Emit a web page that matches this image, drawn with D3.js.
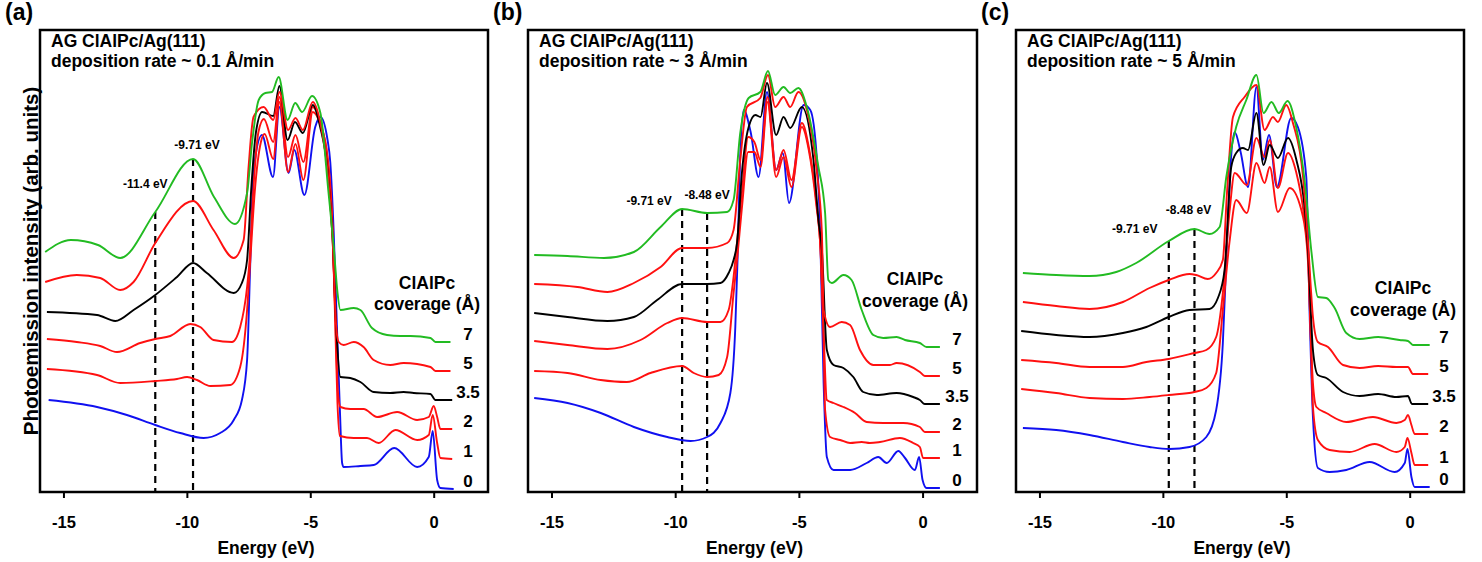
<!DOCTYPE html>
<html>
<head>
<meta charset="utf-8">
<script src="https://cdn.jsdelivr.net/npm/d3@7/dist/d3.min.js"></script>
<style>
body { margin: 0; background: #fff; }
svg text { font-family: "Liberation Sans", Arial, sans-serif; font-weight: bold; fill: #000; }
</style>
</head>
<body>
<svg id="chart" width="1482" height="562"></svg>
<script>
// ---- data: [energy (eV), intensity (arb. units)] ----
var energyTicks = [-15, -10, -5, 0];
var coverages = ["0", "1", "2", "3.5", "5", "7"];
var rates = ["0.1", "3", "5"];
var panelLetters = ["(a)", "(b)", "(c)"];

// panel (a) 0.1 A/min
var aBlue = [[-15.6,92],[-13.64,85],[-12.43,77],[-11.28,67],[-10.27,59],[-9.32,54],[-8.65,59],[-8.1,72],[-7.77,92],[-7.56,132],[-7.43,230],[-7.3,320],[-6.96,357],[-6.51,315],[-6.25,385],[-5.88,319],[-5.65,342],[-5.24,297],[-4.8,365],[-4.59,375],[-4.3,352],[-4.19,330],[-4.05,259],[-3.92,165],[-3.8,82],[-3.71,29],[-3.65,25],[-2.97,26],[-2.43,27],[-1.6,44],[-0.67,25],[-0.2,35],[-0.04,61],[0.14,12],[0.27,4],[0.81,3]];
var aRed1 = [[-15.67,123],[-13.64,117],[-12.7,109],[-11.28,111],[-10.4,113],[-9.99,115],[-9.59,112],[-9.05,106],[-8.24,107],[-7.84,125],[-7.56,182],[-7.43,232],[-7.25,300],[-7.0,350],[-6.85,358],[-6.5,333],[-6.25,390],[-5.9,320],[-5.6,348],[-5.28,312],[-4.9,380],[-4.6,368],[-4.3,335],[-4.1,265],[-3.98,160],[-3.9,90],[-3.8,56],[-3.24,54],[-2.7,54],[-2.23,49],[-1.55,62],[-0.67,52],[-0.2,57],[-0.04,77],[0.14,49],[0.27,34],[0.75,33]];
var aRed2 = [[-15.67,153],[-14.46,150],[-13.51,146],[-12.83,140],[-11.89,149],[-11.28,153],[-10.67,156],[-9.86,168],[-9.46,165],[-8.92,152],[-8.17,150],[-7.84,165],[-7.56,205],[-7.46,232],[-7.3,305],[-7.1,360],[-6.88,373],[-6.5,350],[-6.25,395],[-5.9,335],[-5.6,357],[-5.28,330],[-4.9,385],[-4.6,370],[-4.3,333],[-4.1,262],[-3.98,170],[-3.88,100],[-3.78,85],[-3.38,83],[-2.84,83],[-2.29,75],[-1.48,80],[-0.67,72],[-0.2,75],[0,86],[0.14,75],[0.27,63],[0.75,63]];
var aBlack = [[-15.67,180],[-13.64,177],[-12.9,171],[-12.16,182],[-11.28,197],[-10.4,215],[-9.75,229],[-9.19,219],[-8.1,199],[-7.77,209],[-7.56,232],[-7.4,300],[-7.2,360],[-6.95,380],[-6.5,376],[-6.25,406],[-5.92,352],[-5.62,370],[-5.3,359],[-4.9,387],[-4.6,365],[-4.3,322],[-4.1,255],[-3.95,165],[-3.78,115],[-3.38,114],[-2.97,110],[-2.43,100],[-1.76,99],[-1.22,100],[-0.81,99],[-0.13,98],[0.07,92],[0.75,92]];
var aRed5 = [[-15.74,210],[-14.46,217],[-13.51,214],[-12.7,202],[-12.16,210],[-11.28,249],[-9.75,291],[-8.92,262],[-8.1,234],[-7.7,252],[-7.5,325],[-7.3,375],[-6.89,385],[-6.5,372],[-6.25,400],[-5.9,362],[-5.6,374],[-5.3,362],[-4.9,390],[-4.6,370],[-4.3,320],[-4.1,255],[-3.95,165],[-3.85,150],[-3.65,147],[-3.24,150],[-2.84,145],[-2.43,132],[-1.76,127],[-1.22,129],[-0.13,125],[0.07,121],[0.68,121]];
var aGreen = [[-15.74,240],[-14.7,252],[-13.6,247],[-12.7,234],[-11.28,280],[-9.75,333],[-8.9,295],[-8.05,268],[-7.56,299],[-7.36,349],[-7.09,392],[-6.82,399],[-6.55,400],[-6.28,415],[-5.92,372],[-5.61,389],[-5.33,380],[-4.93,396],[-4.59,379],[-4.26,299],[-4.05,245],[-3.9,200],[-3.78,182],[-3.24,184],[-2.97,182],[-2.5,164],[-1.89,157],[-1.35,156],[-0.94,156],[-0.13,154],[0.07,150],[0.68,150]];
var aDashes = [-11.28, -9.75];
var aDashText = ["-11.4 eV", "-9.71 eV"];

// panel (b) 3 A/min
var bBlue = [[-15.7,94],[-14.35,89],[-13.01,79],[-11.67,65],[-10.32,55],[-9.38,51],[-8.71,55],[-8.17,69],[-7.77,99],[-7.57,165],[-7.48,232],[-7.38,330],[-7.23,382],[-6.95,360],[-6.63,315],[-6.29,400],[-5.92,322],[-5.65,339],[-5.4,289],[-4.81,387],[-4.54,382],[-4.27,332],[-4.14,260],[-4.0,109],[-3.87,35],[-3.6,22],[-2.93,22],[-2.26,29],[-1.79,35],[-1.45,29],[-0.98,41],[-0.71,34],[-0.31,22],[-0.14,35],[0,12],[0.16,4],[0.7,4]];
var bRed1 = [[-15.7,121],[-14.35,119],[-13.01,112],[-11.96,110],[-11.0,119],[-9.72,126],[-9.25,119],[-8.71,115],[-8.24,117],[-7.9,135],[-7.64,199],[-7.5,232],[-7.3,285],[-7.05,340],[-6.8,340],[-6.55,325],[-6.27,390],[-5.92,315],[-5.62,335],[-5.3,305],[-4.88,365],[-4.6,342],[-4.3,288],[-4.12,240],[-4.0,150],[-3.94,82],[-3.74,55],[-3.33,52],[-2.93,49],[-2.46,50],[-2.13,49],[-1.72,50],[-0.92,54],[-0.38,49],[-0.11,45],[0.02,34],[0.7,34]];
var bRed2 = [[-15.7,151],[-14.35,147],[-12.74,143],[-11.4,152],[-10.32,169],[-9.72,174],[-8.71,170],[-8.17,170],[-7.84,182],[-7.64,215],[-7.5,250],[-7.3,300],[-7.05,355],[-6.8,350],[-6.55,332],[-6.27,395],[-5.92,322],[-5.62,342],[-5.3,312],[-4.88,369],[-4.6,345],[-4.3,292],[-4.12,240],[-4.0,160],[-3.87,92],[-3.6,89],[-3.2,85],[-2.73,79],[-2.26,70],[-1.59,69],[-0.78,69],[-0.11,65],[0.09,60],[0.7,60]];
var bBlack = [[-15.7,179],[-14.35,175],[-12.74,171],[-11.67,175],[-10.73,192],[-9.72,208],[-8.71,208],[-8.17,209],[-7.84,219],[-7.64,232],[-7.5,249],[-7.3,320],[-7.03,365],[-6.76,377],[-6.55,375],[-6.29,409],[-5.92,357],[-5.62,375],[-5.35,364],[-4.88,385],[-4.41,332],[-4.21,272],[-4.07,242],[-3.87,142],[-3.6,127],[-3.2,124],[-2.8,115],[-2.4,100],[-1.85,97],[-1.05,99],[-0.38,95],[-0.11,92],[0.09,88],[0.7,88]];
var bRed5 = [[-15.7,208],[-13.95,205],[-12.74,200],[-11.67,209],[-10.59,225],[-9.72,244],[-8.71,244],[-7.9,249],[-7.64,262],[-7.37,332],[-7.1,385],[-6.56,394],[-6.25,417],[-5.96,385],[-5.62,395],[-5.35,385],[-5.02,400],[-4.68,382],[-4.27,319],[-4.07,259],[-4.0,182],[-3.74,165],[-3.27,170],[-2.93,167],[-2.53,142],[-1.99,127],[-1.32,127],[-1.05,129],[-0.11,120],[0.09,116],[0.7,116]];
var bGreen = [[-15.7,237],[-14.35,236],[-12.88,234],[-11.67,240],[-10.59,265],[-9.72,283],[-8.71,279],[-7.9,280],[-7.64,292],[-7.37,359],[-7.03,394],[-6.56,400],[-6.25,421],[-5.96,397],[-5.62,405],[-5.35,399],[-5.02,404],[-4.68,385],[-4.21,325],[-3.94,279],[-3.81,212],[-3.67,209],[-3.2,217],[-2.87,212],[-2.46,182],[-1.99,157],[-1.59,154],[-1.05,155],[-0.71,152],[-0.11,149],[0.16,145],[0.7,145]];
var bDashes = [-9.72, -8.71];
var bDashText = ["-9.71 eV", "-8.48 eV"];

// panel (c) 5 A/min
var cBlue = [[-15.67,64],[-14.32,62],[-12.97,57],[-11.62,50],[-10.54,45],[-9.73,43],[-8.92,45],[-8.24,55],[-7.84,82],[-7.57,149],[-7.43,232],[-7.25,330],[-7.09,360],[-6.85,340],[-6.55,305],[-6.21,405],[-5.95,332],[-5.7,357],[-5.38,305],[-4.8,374],[-4.53,365],[-4.19,315],[-4.05,175],[-3.92,75],[-3.72,24],[-3.24,20],[-2.57,22],[-1.62,30],[-0.61,20],[-0.2,29],[-0.09,43],[0.07,15],[0.2,5],[0.81,5]];
var cRed1 = [[-15.74,103],[-14.32,99],[-12.97,94],[-11.62,93],[-10.54,95],[-9.76,97],[-8.72,100],[-8.24,104],[-7.84,119],[-7.57,182],[-7.3,250],[-7.03,292],[-6.6,279],[-6.21,329],[-5.88,309],[-5.67,325],[-5.34,280],[-4.86,304],[-4.32,275],[-4.12,230],[-4.0,150],[-3.92,85],[-3.72,52],[-3.24,42],[-2.43,40],[-1.42,48],[-0.54,40],[-0.2,45],[-0.09,54],[0.07,39],[0.2,27],[0.75,27]];
var cRed2 = [[-15.74,132],[-14.32,129],[-12.97,125],[-11.62,125],[-10.67,130],[-9.76,133],[-8.72,139],[-8.24,142],[-7.84,155],[-7.57,199],[-7.3,280],[-7.09,319],[-6.6,307],[-6.21,354],[-5.88,335],[-5.67,352],[-5.34,304],[-4.93,339],[-4.6,320],[-4.3,280],[-4.12,240],[-4.0,150],[-3.92,109],[-3.78,85],[-3.38,79],[-2.57,70],[-1.49,75],[-0.54,69],[-0.2,72],[-0.07,77],[0.07,67],[0.2,58],[0.75,58]];
var cBlack = [[-15.74,161],[-14.32,157],[-12.97,155],[-11.62,159],[-10.67,165],[-9.76,175],[-8.92,182],[-8.11,183],[-7.77,194],[-7.5,222],[-7.23,325],[-7.03,339],[-6.76,344],[-6.55,342],[-6.21,379],[-5.92,327],[-5.67,347],[-5.34,334],[-4.93,354],[-4.59,332],[-4.26,285],[-4.12,242],[-3.92,142],[-3.72,117],[-3.38,114],[-2.7,100],[-2.03,96],[-1.28,98],[-0.54,95],[-0.07,96],[0.09,88],[0.75,88]];
var cRed5 = [[-15.67,190],[-14.32,186],[-12.97,183],[-11.62,190],[-10.54,204],[-9.76,212],[-8.92,218],[-8.65,217],[-8.18,213],[-7.84,219],[-7.57,232],[-7.4,300],[-7.16,375],[-6.69,395],[-6.21,407],[-5.88,362],[-5.54,375],[-5.34,370],[-5.0,387],[-4.73,369],[-4.32,315],[-4.12,250],[-3.92,175],[-3.72,150],[-3.31,145],[-2.7,127],[-2.03,124],[-1.28,126],[-0.54,125],[-0.07,125],[0.13,118],[0.75,118]];
var cGreen = [[-15.67,219],[-14.32,217],[-12.97,216],[-11.89,220],[-11.08,229],[-9.76,251],[-8.72,263],[-8.11,258],[-7.7,265],[-7.43,315],[-7.03,365],[-6.62,392],[-6.21,417],[-5.92,379],[-5.6,390],[-5.3,379],[-4.95,391],[-4.6,365],[-4.26,312],[-3.98,240],[-3.72,195],[-3.38,194],[-3.04,184],[-2.57,159],[-2.03,153],[-1.28,155],[-0.41,152],[-0.07,151],[0.13,147],[0.81,147]];
var cDashes = [-9.76, -8.72];
var cDashText = ["-9.71 eV", "-8.48 eV"];

// ---- layout ----
var svg = d3.select("#chart");
var frameTop = 30, frameBottom = 492;
var colors = ["#1010f0", "#ff1010", "#ff1010", "#000000", "#ff1010", "#22bb22"];

var panels = [
    {left: 40, right: 488, curves: [aBlue, aRed1, aRed2, aBlack, aRed5, aGreen], dashes: aDashes, dashText: aDashText,
     textOff: [[-10, -28], [4, -14]], legendX: -61, legendY: [283, 304]},
    {left: 528, right: 977, curves: [bBlue, bRed1, bRed2, bBlack, bRed5, bGreen], dashes: bDashes, dashText: bDashText,
     textOff: [[-33, -8], [0, -18]], legendX: -62, legendY: [279, 301]},
    {left: 1016, right: 1464, curves: [cBlue, cRed1, cRed2, cBlack, cRed5, cGreen], dashes: cDashes, dashText: cDashText,
     textOff: [[-34, -12], [-6, -19]], legendX: -61, legendY: [288, 310]}
];

// linear lookup of a curve value at energy e
function valueAt(data, e) {
    for (var i = 0; i < data.length - 1; i++) {
        if (e >= data[i][0] && e <= data[i + 1][0]) {
            var t = (e - data[i][0]) / (data[i + 1][0] - data[i][0]);
            return data[i][1] + t * (data[i + 1][1] - data[i][1]);
        }
    }
    return data[0][1];
}

panels.forEach(function (p, k) {
    var x = d3.scaleLinear().domain([-15.95, 2.2]).range([p.left, p.right]);
    var y = d3.scaleLinear().domain([0, 462]).range([frameBottom, frameTop]);
    var g = svg.append("g");

    // x axis ticks and labels
    var axis = d3.axisBottom(x).tickValues(energyTicks).tickSize(6)
        .tickFormat(function (d) { return String(d); });
    var ax = g.append("g").attr("transform", "translate(0," + frameBottom + ")").call(axis);
    ax.select(".domain").remove();
    ax.selectAll(".tick line").attr("stroke", "#000").attr("stroke-width", 2);
    ax.selectAll(".tick text").attr("y", 24).attr("font-size", 16.5).attr("fill", "#000")
        .style("font-family", "'Liberation Sans', Arial, sans-serif").style("font-weight", "bold");

    g.append("text").attr("x", (p.left + p.right) / 2 + 2).attr("y", 554)
        .attr("text-anchor", "middle").attr("font-size", 17.5).text("Energy (eV)");

    // curves
    var line = d3.line()
        .x(function (d) { return x(d[0]); })
        .y(function (d) { return y(d[1]); })
        .curve(d3.curveMonotoneX);

    // dashed markers from green curve down to the axis
    var green = p.curves[5];
    p.dashes.forEach(function (e, i) {
        var yt = y(valueAt(green, e));
        g.append("line")
            .attr("x1", x(e)).attr("x2", x(e))
            .attr("y1", yt).attr("y2", frameBottom)
            .attr("stroke", "#000").attr("stroke-width", 2.2)
            .attr("stroke-dasharray", "7,5");
        g.append("text")
            .attr("x", x(e) + p.textOff[i][0]).attr("y", yt + p.textOff[i][1])
            .attr("text-anchor", "middle").attr("dominant-baseline", "central")
            .attr("font-size", 12).text(p.dashText[i]);
    });

    g.selectAll("path.curve")
        .data(p.curves)
        .enter()
        .append("path")
        .attr("class", "curve")
        .attr("d", line)
        .attr("fill", "none")
        .attr("stroke", function (d, i) { return colors[i]; })
        .attr("stroke-width", 1.9);

    // coverage labels next to the curve ends
    p.curves.forEach(function (c, i) {
        var last = c[c.length - 1];
        g.append("text")
            .attr("x", p.right - 20).attr("y", y(last[1]) - 8)
            .attr("text-anchor", "middle").attr("dominant-baseline", "central")
            .attr("font-size", 17).text(coverages[i]);
    });

    g.append("text").attr("x", p.right + p.legendX).attr("y", p.legendY[0])
        .attr("text-anchor", "middle").attr("dominant-baseline", "central")
        .attr("font-size", 17.5).text("ClAlPc");
    g.append("text").attr("x", p.right + p.legendX).attr("y", p.legendY[1])
        .attr("text-anchor", "middle").attr("dominant-baseline", "central")
        .attr("font-size", 17.5).text("coverage (Å)");

    // titles
    g.append("text").attr("x", p.left + 11).attr("y", 47).attr("font-size", 17.5).text("AG ClAlPc/Ag(111)");
    g.append("text").attr("x", p.left + 11).attr("y", 67).attr("font-size", 17.5)
        .text("deposition rate ~ " + rates[k] + " Å/min");

    // frame
    g.append("rect")
        .attr("x", p.left).attr("y", frameTop)
        .attr("width", p.right - p.left).attr("height", frameBottom - frameTop)
        .attr("fill", "none").attr("stroke", "#000").attr("stroke-width", 2.5);

    // panel letter
    g.append("text").attr("x", p.left - 35).attr("y", 20).attr("font-size", 23).text(panelLetters[k]);
});

// y axis title, only on the first panel
svg.append("text")
    .attr("transform", "translate(30,261) rotate(-90)")
    .attr("text-anchor", "middle").attr("dominant-baseline", "central")
    .attr("font-size", 20.5).text("Photoemission intensity (arb. units)");
</script>
</body>
</html>
